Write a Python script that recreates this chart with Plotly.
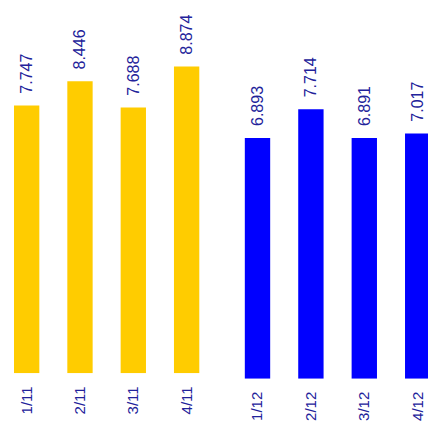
import plotly.graph_objects as go

cats_11 = ["1/11", "2/11", "3/11", "4/11"]
vals_11 = [7.747, 8.446, 7.688, 8.874]
cats_12 = ["1/12", "2/12", "3/12", "4/12"]
vals_12 = [6.893, 7.714, 6.891, 7.017]

W, H = 428, 423
txt_color = "#22229a"
font_family = "Arial, Liberation Sans, sans-serif"
pad = "\u00a0\u00a0"

fig = go.Figure()
fig.add_trace(go.Bar(
    x=cats_11, y=vals_11, xaxis="x", yaxis="y",
    marker=dict(color="#ffcc00", line=dict(width=0)),
    width=0.475,
    text=[f"{pad}{v:.3f}" for v in vals_11], textposition="outside",
    textangle=-90, cliponaxis=False, constraintext="none",
    textfont=dict(size=16, color=txt_color, family=font_family),
))
fig.add_trace(go.Bar(
    x=cats_12, y=vals_12, xaxis="x2", yaxis="y2",
    marker=dict(color="#0000ff", line=dict(width=0)),
    width=0.475,
    text=[f"{pad}{v:.3f}" for v in vals_12], textposition="outside",
    textangle=-90, cliponaxis=False, constraintext="none",
    textfont=dict(size=16, color=txt_color, family=font_family),
))

axis_common = dict(showgrid=False, zeroline=False, showline=False, ticks="",
                   automargin=False, fixedrange=True)

fig.update_layout(
    width=W, height=H,
    margin=dict(l=0, r=0, t=0, b=0),
    paper_bgcolor="white", plot_bgcolor="white",
    showlegend=False,
    font=dict(family=font_family, color=txt_color),
    xaxis=dict(domain=[0, 213.3 / W], range=[-0.5, 3.5], type="category",
               tickangle=-90, tickfont=dict(size=15, color=txt_color),
               ticklabelstandoff=9, **axis_common),
    yaxis=dict(domain=[(H - 373.3) / H, 1], range=[0, 10.8], visible=False, **axis_common),
    xaxis2=dict(domain=[230.8 / W, 1], range=[-0.5, (W - 230.8) / 53.4 - 0.5], type="category",
                tickangle=-90, tickfont=dict(size=15, color=txt_color), anchor="y2",
                ticklabelstandoff=9, **axis_common),
    yaxis2=dict(domain=[(H - 378.7) / H, 1], range=[0, 10.84], visible=False, anchor="x2", **axis_common),
)

fig.write_html("out.html", config={"displayModeBar": False},
               post_script="document.body.style.margin='0';document.body.style.overflow='hidden';")
